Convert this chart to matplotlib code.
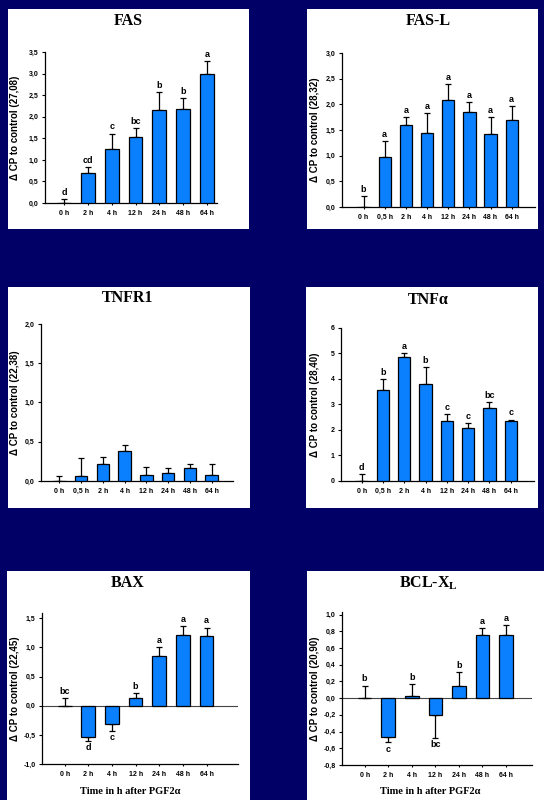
import matplotlib
matplotlib.use("Agg")
import matplotlib.pyplot as plt
from matplotlib.patches import Rectangle
from matplotlib.ticker import FuncFormatter

# Data (mean delta CP and one-sided error)
times7 = ["0 h", "2 h", "4 h", "12 h", "24 h", "48 h", "64 h"]
times8 = ["0 h", "0,5 h", "2 h", "4 h", "12 h", "24 h", "48 h", "64 h"]

fas_mean = [0, 0.70, 1.26, 1.52, 2.15, 2.18, 3.00]
fas_err = [0.10, 0.14, 0.35, 0.22, 0.43, 0.26, 0.28]
fas_sig = ["d", "cd", "c", "bc", "b", "b", "a"]

fasl_mean = [0, 0.97, 1.60, 1.45, 2.08, 1.86, 1.42, 1.69]
fasl_err = [0.21, 0.31, 0.15, 0.38, 0.32, 0.18, 0.33, 0.27]
fasl_sig = ["b", "a", "a", "a", "a", "a", "a", "a"]

tnfr1_mean = [0, 0.06, 0.22, 0.38, 0.08, 0.10, 0.17, 0.08]
tnfr1_err = [0.06, 0.23, 0.09, 0.08, 0.10, 0.06, 0.05, 0.14]

tnfa_mean = [0, 3.56, 4.88, 3.80, 2.34, 2.09, 2.88, 2.34]
tnfa_err = [0.27, 0.43, 0.15, 0.68, 0.29, 0.20, 0.20, 0.07]
tnfa_sig = ["d", "b", "a", "b", "c", "c", "bc", "c"]

bax_mean = [0, -0.54, -0.32, 0.14, 0.86, 1.22, 1.20]
bax_err = [0.13, 0.07, 0.12, 0.08, 0.15, 0.14, 0.14]
bax_sig = ["bc", "d", "c", "b", "a", "a", "a"]

bcl_mean = [0, -0.46, 0.02, -0.20, 0.14, 0.76, 0.76]
bcl_err = [0.15, 0.07, 0.15, 0.28, 0.17, 0.08, 0.11]
bcl_sig = ["b", "c", "b", "bc", "b", "a", "a"]

NAVY = "#000066"
BAR = "#0A80FF"
W, H = 544, 800

plt.rcParams["mathtext.fontset"] = "custom"
plt.rcParams["mathtext.bf"] = "Liberation Serif:bold"
plt.rcParams["mathtext.rm"] = "Liberation Serif:bold"

fig = plt.figure(figsize=(W / 100, H / 100), dpi=100, facecolor=NAVY)


def panel(l, t, r, b):
    fig.patches.append(Rectangle((l / W, 1 - b / H), (r - l) / W, (b - t) / H,
                                 transform=fig.transFigure, facecolor="white",
                                 edgecolor="none", zorder=-5))


def comma(fmt):
    return FuncFormatter(lambda v, p: (fmt % v).replace(".", ","))


def bars(l, t, r, b, labels, mean, err, sig, xlim, ylim, yticks, fmt,
         title, title_x, title_y, ylabel, label_x, zero_line=False):
    ax = fig.add_axes([l / W, 1 - b / H, (r - l) / W, (b - t) / H])
    ax.set_facecolor("none")
    x = range(len(mean))
    ax.bar(x, mean, width=0.58, color=BAR, edgecolor="black", linewidth=0.9, zorder=3)
    lo = [e if m < 0 else 0 for m, e in zip(mean, err)]
    hi = [0 if m < 0 else e for m, e in zip(mean, err)]
    ax.errorbar(x, mean, yerr=[lo, hi], fmt="none", ecolor="black",
                elinewidth=0.9, capsize=2, capthick=0.9, zorder=2)
    if zero_line:
        ax.axhline(0, color="#444444", linewidth=0.8, zorder=1)
    if sig:
        for i, (m, e, s) in enumerate(zip(mean, err, sig)):
            if m < 0:
                ax.annotate(s, (i, m - e), xytext=(0, -1.5), textcoords="offset points",
                            ha="center", va="top", fontsize=6.5, fontweight="bold",
                            family="Liberation Sans")
            else:
                ax.annotate(s, (i, m + e), xytext=(0, 1.5), textcoords="offset points",
                            ha="center", va="bottom", fontsize=6.5, fontweight="bold",
                            family="Liberation Sans")
    ax.set_xlim(*xlim)
    ax.set_ylim(*ylim)
    ax.set_yticks(yticks)
    ax.yaxis.set_major_formatter(comma(fmt))
    ax.set_xticks(list(x))
    ax.set_xticklabels(labels)
    for sp in ["top", "right"]:
        ax.spines[sp].set_visible(False)
    for sp in ["left", "bottom"]:
        ax.spines[sp].set_linewidth(0.9)
    ax.tick_params(axis="y", length=2.5, width=0.8, pad=2)
    ax.tick_params(axis="x", length=1.5, width=0.8, pad=6.8)
    for tl in ax.get_xticklabels() + ax.get_yticklabels():
        tl.set_fontsize(5)
        tl.set_fontweight("bold")
        tl.set_family("Liberation Sans")
    for tl in ax.get_xticklabels():
        tl.set_verticalalignment("baseline")
    fig.text(title_x / W, 1 - title_y / H, title, ha="center", va="center",
             fontsize=11.5, fontweight="bold", family="Liberation Serif")
    fig.text(label_x / W, 1 - (t + b) / 2 / H, ylabel, rotation=90, ha="center",
             va="center", fontsize=7, fontweight="bold", family="Liberation Sans")
    return ax


# white panels
panel(8, 9, 249, 229)
panel(307, 9, 538, 229)
panel(8, 287, 250, 508)
panel(306, 287, 538, 508)
panel(7, 571, 250, 800)
panel(307, 571, 544, 800)

bars(45, 52, 217, 203, times7, fas_mean, fas_err, fas_sig,
     (-0.8, 6.42), (0, 3.5), [0, 0.5, 1, 1.5, 2, 2.5, 3, 3.5], "%.1f",
     "FAS", 128, 21, "Δ CP to control (27,08)", 15)

bars(342, 53, 535, 207, times8, fasl_mean, fasl_err, fasl_sig,
     (-1.02, 8.1), (0, 3.0), [0, 0.5, 1, 1.5, 2, 2.5, 3], "%.1f",
     "FAS-L", 428, 21, "Δ CP to control (28,32)", 315)

bars(41, 324, 233, 481, times8, tnfr1_mean, tnfr1_err, None,
     (-0.84, 7.98), (0, 2.0), [0, 0.5, 1, 1.5, 2], "%.1f",
     "TNFR1", 128, 298, "Δ CP to control (22,38)", 15)

bars(341, 328, 534, 481, times8, tnfa_mean, tnfa_err, tnfa_sig,
     (-0.97, 8.09), (0, 6), [0, 1, 2, 3, 4, 5, 6], "%.0f",
     "TNFα", 428, 300, "Δ CP to control (28,40)", 315)

bars(42, 613, 238, 764, times7, bax_mean, bax_err, bax_sig,
     (-0.96, 7.33), (-1.0, 1.59), [-1, -0.5, 0, 0.5, 1, 1.5], "%.1f",
     "BAX", 128, 583, "Δ CP to control (22,45)", 15, zero_line=True)

bars(342, 612, 532, 765, times7, bcl_mean, bcl_err, bcl_sig,
     (-0.96, 7.1), (-0.8, 1.03), [-0.8, -0.6, -0.4, -0.2, 0, 0.2, 0.4, 0.6, 0.8, 1.0],
     "%.1f", r"BCL-X$_\mathbf{L}$", 428, 583, "Δ CP to control (20,90)", 315,
     zero_line=True)

for xc in [130, 430]:
    fig.text(xc / W, 1 - 792 / H, "Time in h after PGF2α", ha="center", va="center",
             fontsize=7.5, fontweight="bold", family="Liberation Serif")

fig.savefig("out.png", dpi=100, facecolor=NAVY)
